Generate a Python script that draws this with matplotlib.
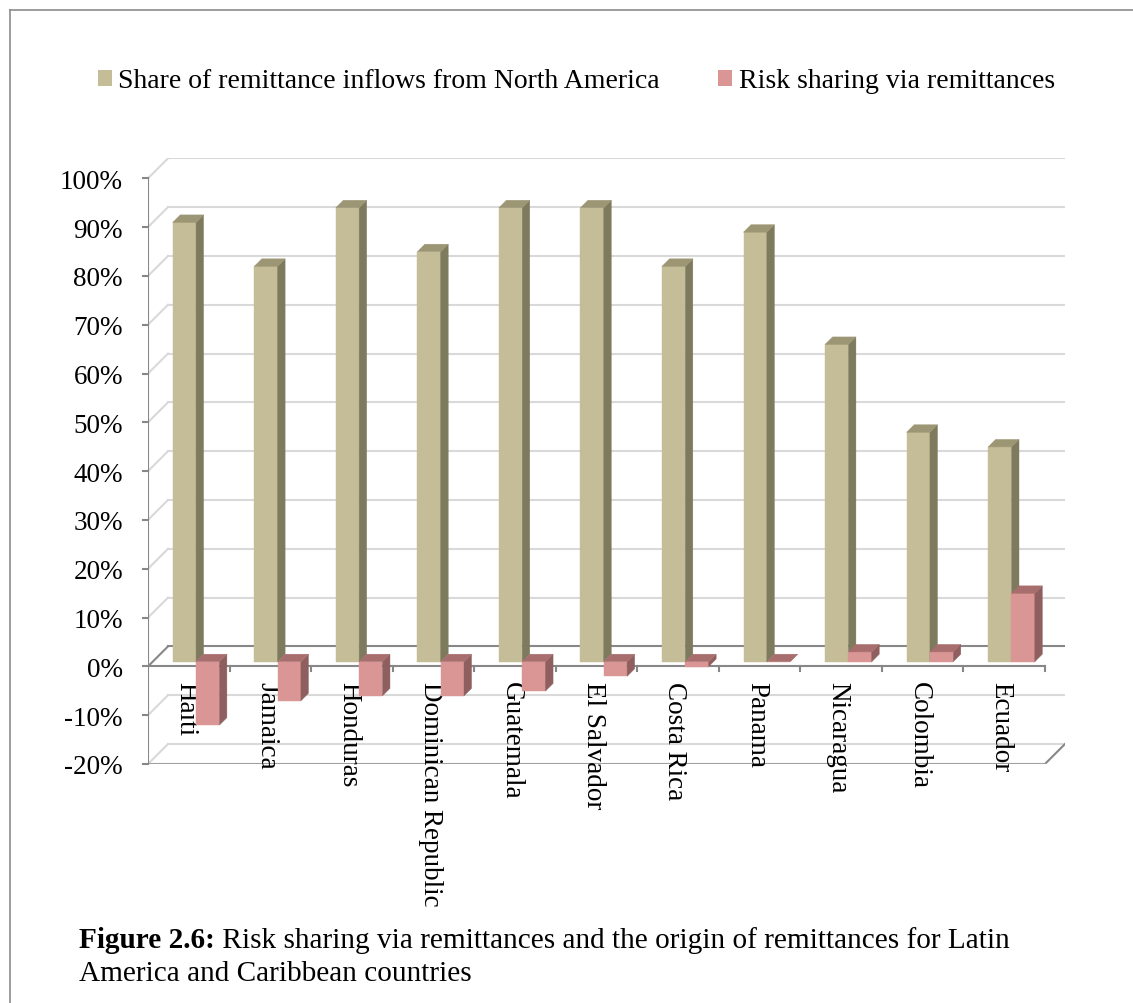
import matplotlib
matplotlib.use("Agg")
import matplotlib.pyplot as plt
from matplotlib.patches import Polygon, Patch
from matplotlib.lines import Line2D

countries = ["Haiti", "Jamaica", "Honduras", "Dominican Republic", "Guatemala",
             "El Salvador", "Costa Rica", "Panama", "Nicaragua", "Colombia", "Ecuador"]
share_na = [90, 81, 93, 84, 93, 93, 81, 88, 65, 47, 44]          # % of inflows from North America
risk_sharing = [-13, -8, -7, -7, -6, -3, -1, 0, 2, 2, 14]       # % risk shared via remittances
yticks = list(range(-20, 101, 10))

plt.rcParams["font.family"] = ["Liberation Serif", "DejaVu Serif"]
FS = 20
FS_LAB = 19.5
FS_CAP = 21.1

TAN = ("#C4BD97", "#7E7A5E", "#9C9674")     # front, side, top
RED = ("#D99694", "#8E5F5E", "#A86E6D")
GRID, AXC = "#D9D9D9", "#878787"

fig = plt.figure(figsize=(11.33, 10.04), dpi=100)
W, H = 1133, 1004
# front plane: x 0..11 -> px 148..1044 ; y -20..100 -> px 765..179.3
ax = fig.add_axes([148 / W, (H - 765) / H, (1065 - 148) / W, (765 - 159.3) / H])
n = len(countries)
pxx = (1044 - 148) / n          # px per category
pxy = (765 - 179.3) / 120       # px per percent
DX, DY = 20 / pxx, 20 / pxy     # wall depth
ax.set_xlim(0, n + DX)
ax.set_ylim(-20, 100 + DY)
ax.axis("off")

# back wall + left wall grid
for v in yticks:
    ax.plot([DX, n + DX], [v + DY, v + DY], color=AXC if v == 0 else GRID, lw=1.5, zorder=1)
    ax.plot([0, DX], [v, v + DY], color=AXC if v == 0 else GRID, lw=1.5, zorder=1)
# floor
ax.plot([n, n + DX], [-20, -20 + DY], color=AXC, lw=1.5, zorder=1)
ax.plot([0, n], [-20, -20], color="#A0A0A0", lw=1.5, zorder=2)
# axes on the front plane
ax.plot([0, 0], [-20, 100], color=AXC, lw=1.5, zorder=2)
ax.plot([0, n], [0, 0], color=AXC, lw=1.5, zorder=2)
tk = 5 / pxy
for i in range(1, n + 1):
    ax.plot([i, i], [0, -tk], color=AXC, lw=1.5, zorder=2)
for v in yticks:
    ax.plot([0, -5 / pxx], [v, v], color=AXC, lw=1.5, zorder=2, clip_on=False)
    ax.text(-25 / pxx, v, f"{v}%", ha="right", va="center_baseline", fontsize=FS_LAB)

# 3d-looking bars
BW = 23.3 / pxx
BX, BY = 24.7 / pxx, 4.7 / pxy
dd_x, dd_y = 7.5 / pxx, 7.5 / pxy


def bar3d(x0, v, cols, z):
    lo, hi = min(0, v) + BY, max(0, v) + BY
    x0 = x0 + BX
    faces = [
        ([(x0, lo), (x0 + BW, lo), (x0 + BW, hi), (x0, hi)], cols[0]),
        ([(x0 + BW, lo), (x0 + BW + dd_x, lo + dd_y), (x0 + BW + dd_x, hi + dd_y), (x0 + BW, hi)], cols[1]),
        ([(x0, hi), (x0 + BW, hi), (x0 + BW + dd_x, hi + dd_y), (x0 + dd_x, hi + dd_y)], cols[2]),
    ]
    for pts, c in faces:
        ax.add_patch(Polygon(pts, closed=True, facecolor=c, edgecolor=c, lw=0.3, zorder=z))


for i in range(n):
    bar3d(i, share_na[i], TAN, 3 + 2 * i)
    bar3d(i + BW, risk_sharing[i], RED, 4 + 2 * i)
    ax.text(i + 0.46, -3, countries[i], rotation=270, ha="center", va="top", fontsize=FS_LAB, zorder=2.5)

fig.legend(handles=[Patch(facecolor=TAN[0], edgecolor="none", label="Share of remittance inflows from North America"),
                    Patch(facecolor=RED[0], edgecolor="none", label="Risk sharing via remittances")],
           loc="center", bbox_to_anchor=(576.5 / W, 1 - 82 / H), ncol=2, frameon=False, fontsize=FS,
           handlelength=0.5, handleheight=0.5, handletextpad=0.25, columnspacing=2.1)

# caption: bold label followed by regular text
x0 = 79 / W
t1 = fig.text(x0, 1 - 948 / H, "Figure 2.6:", fontsize=FS_CAP, fontweight="bold", va="baseline")
r = fig.canvas.get_renderer()
bb = t1.get_window_extent(renderer=r)
fig.text(bb.x1 / W, 1 - 948 / H, " Risk sharing via remittances and the origin of remittances for Latin",
         fontsize=FS_CAP, va="baseline")
fig.text(x0, 1 - 981 / H, "America and Caribbean countries", fontsize=FS_CAP, va="baseline")

# page frame
fig.add_artist(Line2D([10.5 / W, 10.5 / W], [0, 1 - 11 / H], color="#8C8C8C", lw=1.2))
fig.add_artist(Line2D([10.5 / W, 1], [1 - 11 / H, 1 - 11 / H], color="#8C8C8C", lw=1.2))

fig.savefig("out.png", dpi=100)
